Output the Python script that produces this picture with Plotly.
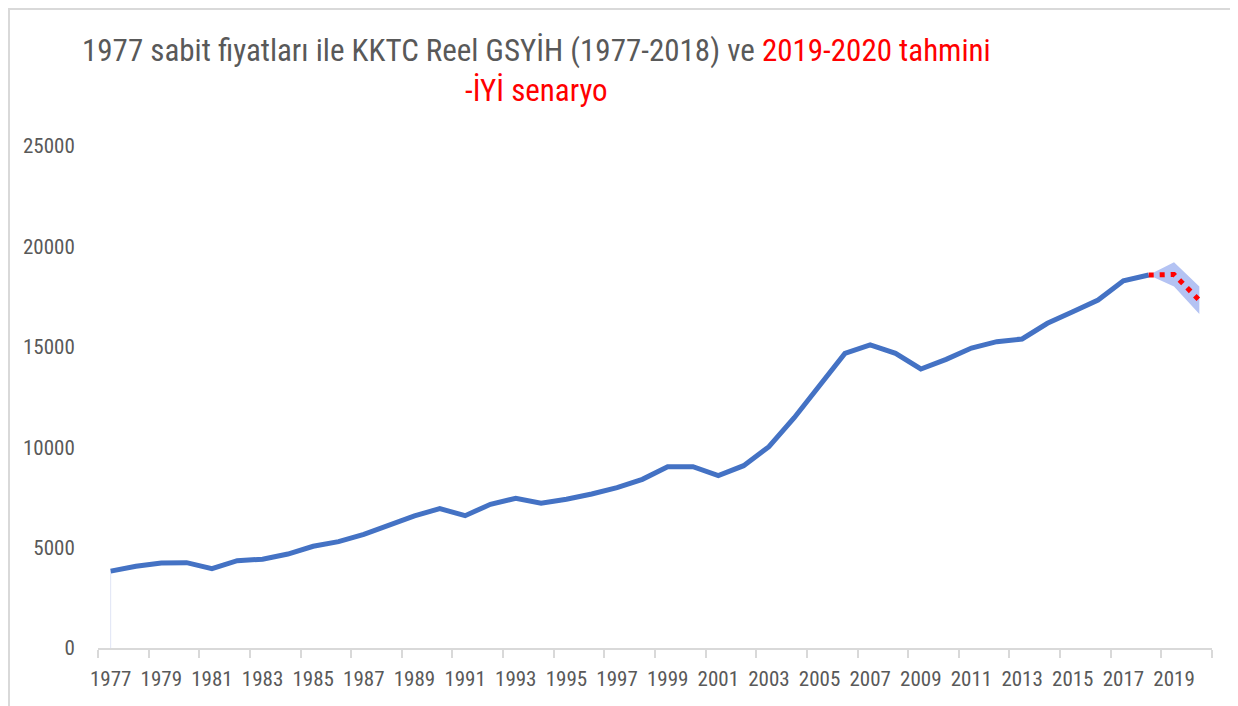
import plotly.graph_objects as go

years = list(range(1977, 2019))
gdp = [3830, 4070, 4235, 4250, 3950, 4350, 4420, 4680, 5065, 5295,
       5660, 6125, 6580, 6940, 6590, 7155, 7455, 7205, 7405, 7670,
       7985, 8400, 9030, 9030, 8590, 9080, 10025, 11470, 13060, 14675,
       15090, 14675, 13895, 14375, 14940, 15255, 15390, 16170, 16750, 17330,
       18290, 18575]

fc_years = [2018, 2019, 2020]
fc_mid = [18575, 18600, 17320]
fc_upper = [18575, 19210, 18000]
fc_lower = [18575, 18000, 16630]

label_years = list(range(1977, 2020, 2))
y_ticks = [0, 5000, 10000, 15000, 20000, 25000]

FONT = "Roboto Condensed, Liberation Sans Narrow, DejaVu Sans Condensed, Arial Narrow, Roboto, sans-serif"
GRAY = "#595959"

fig = go.Figure()

# faint left edge of the area series
fig.add_trace(go.Scatter(x=[years[0], years[0]], y=[0, gdp[0]], mode="lines",
                         line=dict(color="#dfe4f5", width=1), hoverinfo="skip", showlegend=False))

# forecast band
fig.add_trace(go.Scatter(x=fc_years, y=fc_lower, mode="lines", line=dict(width=0, color="#b4c3f3"),
                         showlegend=False, hoverinfo="skip"))
fig.add_trace(go.Scatter(x=fc_years, y=fc_upper, mode="lines", line=dict(width=0, color="#b4c3f3"),
                         fill="tonexty", fillcolor="#b4c3f3", showlegend=False, hoverinfo="skip"))

# main series
fig.add_trace(go.Scatter(x=years, y=gdp, mode="lines",
                         line=dict(color="#4472c4", width=5), showlegend=False))

# forecast dotted line
fig.add_trace(go.Scatter(x=fc_years, y=fc_mid, mode="lines",
                         line=dict(color="#ff0000", width=5, dash="5px,6px"), showlegend=False))

fig.update_xaxes(
    range=[1976.5, 2020.5],
    tickmode="array", tickvals=label_years, ticktext=[str(y) for y in label_years],
    ticks="outside", ticklen=11, tickcolor="rgba(0,0,0,0)",
    showline=True, linecolor="#d9d9d9", linewidth=2,
    showgrid=False, zeroline=False,
    tickfont=dict(family=FONT, size=21, color=GRAY),
    minor=dict(tickmode="linear", tick0=1976.5, dtick=2, ticks="outside", ticklen=8,
               tickcolor="#d9d9d9", tickwidth=2, showgrid=False),
)
fig.update_yaxes(
    range=[0, 25000], tickmode="array", tickvals=y_ticks, ticktext=[str(v) for v in y_ticks],
    ticks="outside", ticklen=18, tickcolor="rgba(0,0,0,0)",
    showline=False, showgrid=False, zeroline=False,
    tickfont=dict(family=FONT, size=21, color=GRAY),
)

title = ("<span style='color:#595959'>1977 sabit fiyatları ile KKTC Reel GSYİH (1977-2018) ve </span>"
         "<span style='color:#ff0000'>2019-2020 tahmini</span><br>"
         "<span style='color:#ff0000'>-İYİ senaryo</span>")

# page has an 8px body margin; figure coordinates are page minus 8
W, H = 1230, 698
L, R, T, B = 90, 26, 138, 58
pw, ph = W - L - R, H - T - B

def px_x(p):
    return (p - L) / pw

def px_y(p):
    return (H - B - p) / ph

fig.add_annotation(text=title, xref="paper", yref="paper", x=px_x(528), y=px_y(63),
                   xanchor="center", yanchor="middle", showarrow=False, align="center",
                   font=dict(family=FONT, size=31, color=GRAY))

fig.add_shape(type="rect", xref="paper", yref="paper",
              x0=px_x(1), x1=px_x(1260), y0=px_y(730), y1=px_y(1),
              line=dict(color="#d9d9d9", width=2), fillcolor="rgba(0,0,0,0)", layer="below")

fig.update_layout(
    width=W, height=H,
    margin=dict(l=L, r=R, t=T, b=B),
    paper_bgcolor="white", plot_bgcolor="white",
    showlegend=False,
    font=dict(family=FONT, color=GRAY),
)

fig.write_html("out.html")
